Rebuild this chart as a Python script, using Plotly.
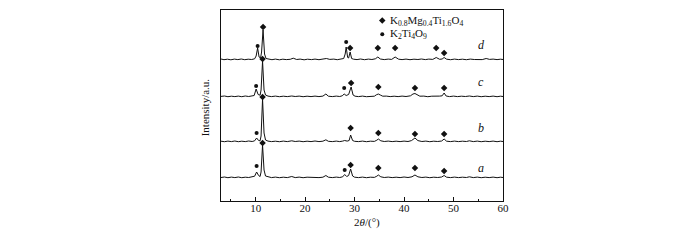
import plotly.graph_objects as go

# ---- data (2theta, relative intensity above each baseline) ----
pattern_a = [(3.0,0.5),(3.7,1.0),(4.4,0.3),(5.1,0.9),(5.8,0.4),(6.5,1.0),(7.2,0.3),(7.9,0.8),(8.6,0.5),(9.3,1.0),
             (9.8,1.8),(10.2,6),(10.6,2.5),(10.9,1.5),(11.1,6),(11.4,33),(11.7,8),(12.0,2),(12.5,1.0),(13.2,0.4),
             (14.0,0.9),(14.8,0.3),(15.6,0.8),(16.4,0.4),(17.3,1.5),(18.0,0.4),(18.8,0.9),(19.6,0.3),(20.4,0.8),
             (21.2,0.5),(22.0,0.9),(22.8,0.4),(23.6,0.8),(24.2,2.5),(24.7,0.8),(25.5,0.4),(26.3,0.9),(27.0,0.5),
             (27.6,1.2),(28.0,3.5),(28.4,1.5),(28.8,2.5),(29.2,9),(29.6,2),(30.0,0.8),(30.8,0.4),(31.6,0.9),
             (32.4,0.3),(33.2,0.8),(34.0,0.6),(34.5,1.8),(34.8,3),(35.3,1.2),(36.0,0.5),(36.8,0.9),(37.6,0.4),
             (38.4,0.8),(39.2,0.4),(40.0,1.0),(40.8,0.5),(41.6,1.2),(42.2,3),(42.8,1.2),(43.6,0.5),(44.4,0.9),
             (45.2,0.3),(46.0,0.8),(46.8,0.5),(47.6,1.0),(48.1,2.5),(48.6,0.8),(49.4,0.4),(50.2,0.9),(51.0,0.4),
             (51.8,0.8),(52.6,0.5),(53.2,1.2),(54.0,0.4),(54.8,0.9),(55.6,0.3),(56.4,0.8),(57.2,0.4),(58.0,0.9),
             (58.8,0.3),(59.5,0.8),(60.0,0.5)]
pattern_b = [(3.0,0.8),(3.7,0.3),(4.4,0.9),(5.1,0.4),(5.8,1.0),(6.5,0.3),(7.2,0.8),(7.9,0.4),(8.6,1.0),(9.3,0.5),
             (9.8,1.2),(10.2,4),(10.6,1.5),(10.9,1.2),(11.1,6),(11.4,43),(11.7,9),(12.0,2),(12.5,0.9),(13.2,0.4),
             (14.0,0.8),(14.8,0.3),(15.6,0.9),(16.4,0.4),(17.3,1.2),(18.0,0.5),(18.8,0.9),(19.6,0.3),(20.4,0.8),
             (21.2,0.4),(22.0,1.0),(22.8,0.4),(23.6,0.8),(24.2,2.2),(24.7,0.7),(25.5,0.4),(26.3,0.9),(27.0,0.4),
             (27.6,0.9),(28.0,1.5),(28.5,0.9),(28.9,1.5),(29.2,7),(29.6,1.5),(30.0,0.7),(30.8,0.4),(31.6,0.9),
             (32.4,0.3),(33.2,0.8),(34.0,0.6),(34.5,1.8),(34.8,3),(35.3,1.2),(36.0,0.5),(36.8,0.9),(37.6,0.4),
             (38.4,0.8),(39.2,0.4),(40.0,0.9),(40.8,0.5),(41.5,1.4),(42.2,4),(42.8,1.4),(43.6,0.5),(44.4,0.9),
             (45.2,0.3),(46.0,0.8),(46.8,0.5),(47.6,1.0),(48.1,3),(48.6,0.8),(49.4,0.4),(50.2,0.9),(51.0,0.4),
             (51.8,0.8),(52.6,0.5),(53.2,1.2),(54.0,0.4),(54.8,0.9),(55.6,0.3),(56.4,0.8),(57.2,0.4),(58.0,0.9),
             (58.8,0.3),(59.5,0.8),(60.0,0.5)]
pattern_c = [(3.0,0.6),(3.7,1.0),(4.4,0.3),(5.1,0.8),(5.8,0.4),(6.5,0.9),(7.2,0.3),(7.9,1.0),(8.6,0.5),(9.3,0.9),
             (9.7,1.5),(10.1,8),(10.5,2.5),(10.9,1.8),(11.1,7),(11.4,36),(11.7,7),(12.0,2),(12.5,0.9),(13.2,0.4),
             (14.0,0.9),(14.8,0.3),(15.6,0.8),(16.4,0.4),(17.3,1.0),(18.0,0.5),(18.8,0.9),(19.6,0.3),(20.4,0.8),
             (21.2,0.4),(22.0,0.9),(22.8,0.4),(23.6,0.9),(24.2,3),(24.7,0.8),(25.5,0.4),(26.3,0.9),(27.0,0.5),
             (27.5,1.2),(27.9,3),(28.3,1.5),(28.8,2.5),(29.3,10),(29.7,2),(30.1,0.8),(30.8,0.4),(31.6,0.9),
             (32.4,0.3),(33.2,0.8),(34.0,0.8),(34.4,2.2),(34.8,3),(35.2,2.0),(35.7,0.8),(36.4,0.9),(37.2,0.4),
             (38.0,0.8),(38.8,0.4),(39.6,0.9),(40.4,0.5),(41.3,1.2),(41.8,3),(42.2,3.5),(42.7,2.0),(43.2,0.8),
             (44.0,0.9),(44.8,0.3),(45.6,0.8),(46.4,0.5),(47.2,0.9),(47.7,1.2),(48.1,4),(48.5,1.0),(49.2,0.4),
             (50.0,0.9),(50.8,0.4),(51.6,0.8),(52.4,0.5),(53.2,1.0),(54.0,0.4),(54.8,0.9),(55.6,0.3),(56.4,0.8),
             (57.2,0.4),(58.0,0.9),(58.8,0.3),(59.5,0.8),(60.0,0.5)]
pattern_d = [(3.0,1.0),(3.6,0.3),(4.3,0.8),(5.0,0.2),(5.7,0.9),(6.4,0.4),(7.1,1.0),(7.8,0.3),(8.5,0.8),(9.2,0.5),
             (9.8,1.2),(10.1,4),(10.4,12),(10.7,3),(11.0,2),(11.2,8),(11.5,30),(11.8,6),(12.1,1.5),(12.6,0.8),
             (13.3,0.3),(14.0,0.9),(14.8,0.2),(15.5,0.8),(16.2,0.4),(17.0,0.7),(17.6,1.8),(18.3,0.5),(19.0,0.9),
             (19.8,0.2),(20.5,0.8),(21.3,0.4),(22.0,0.9),(22.8,0.3),(23.5,0.8),(24.3,1.5),(25.0,0.6),(25.8,0.9),
             (26.5,0.3),(27.2,1.0),(27.8,1.5),(28.1,6),(28.3,13),(28.6,2.5),(28.8,2),(29.1,8),(29.4,1.5),(29.8,0.8),
             (30.5,0.4),(31.2,1.0),(32.0,0.3),(32.8,0.9),(33.5,0.5),(34.2,1.2),(34.7,3),(35.2,1.0),(36.0,0.4),
             (36.8,0.9),(37.5,0.6),(38.2,3),(38.9,0.8),(39.6,0.4),(40.4,0.9),(41.2,0.3),(42.0,0.8),(42.8,0.5),
             (43.5,1.0),(44.3,0.4),(45.0,0.9),(45.8,0.6),(46.5,2.5),(47.2,0.7),(47.7,1.0),(48.1,2.5),(48.6,0.8),
             (49.4,0.3),(50.2,0.9),(51.0,0.4),(51.8,0.8),(52.6,0.3),(53.4,0.9),(54.2,0.5),(55.0,0.8),(55.8,0.4),
             (56.6,1.5),(57.3,0.6),(58.0,0.9),(58.8,0.4),(59.5,0.8),(60.0,0.5)]

pattern_names = ["a", "b", "c", "d"]
baselines = [23, 59, 104, 141]          # vertical offsets of the stacked patterns
label_pos = [(55.5, 33), (55.6, 73), (55.6, 119), (55.6, 156)]

# phase markers: (2theta, absolute height)
kmt_marks = [  # K0.8Mg0.4Ti1.6O4  (diamond)
    (11.4, 58), (29.2, 36), (34.8, 33), (42.2, 33), (48.1, 30),
    (11.4, 104), (29.2, 73), (34.8, 68), (42.2, 67), (48.1, 67),
    (11.4, 142), (29.3, 118), (34.8, 114), (42.2, 113), (48.1, 113),
    (11.5, 174), (29.1, 153), (34.7, 153), (38.2, 153), (46.5, 153), (48.1, 148),
]
kt_marks = [   # K2Ti4O9  (circle)
    (10.2, 35), (28.0, 31),
    (10.2, 68),
    (10.1, 115), (27.9, 113),
    (10.4, 155), (28.3, 159),
]
legend_names = ["K<sub>0.8</sub>Mg<sub>0.4</sub>Ti<sub>1.6</sub>O<sub>4</sub>", "K<sub>2</sub>Ti<sub>4</sub>O<sub>9</sub>"]
legend_pos = [(35.6, 180.5), (35.6, 166.7)]

x_ticks = [10, 20, 30, 40, 50, 60]

FONT = "Liberation Serif, Times New Roman, serif"
INK = "#111111"

fig = go.Figure()
for pat, base in zip([pattern_a, pattern_b, pattern_c, pattern_d], baselines):
    fig.add_trace(go.Scatter(
        x=[p[0] for p in pat], y=[base + p[1] for p in pat],
        mode="lines", line=dict(color=INK, width=1), showlegend=False, hoverinfo="skip"))

fig.add_trace(go.Scatter(
    x=[m[0] for m in kmt_marks], y=[m[1] for m in kmt_marks], mode="markers",
    marker=dict(symbol="diamond", size=5, color=INK), showlegend=False))
fig.add_trace(go.Scatter(
    x=[m[0] for m in kt_marks], y=[m[1] for m in kt_marks], mode="markers",
    marker=dict(symbol="circle", size=4, color=INK), showlegend=False))

# legend inside plot
fig.add_trace(go.Scatter(
    x=[legend_pos[0][0]], y=[legend_pos[0][1]], mode="markers",
    marker=dict(symbol="diamond", size=5, color=INK), showlegend=False))
fig.add_trace(go.Scatter(
    x=[legend_pos[1][0]], y=[legend_pos[1][1]], mode="markers",
    marker=dict(symbol="circle", size=4, color=INK), showlegend=False))
for name, (lx, ly) in zip(legend_names, legend_pos):
    fig.add_annotation(x=lx + 1.2, y=ly, xref="x", yref="y", text=name, showarrow=False,
                       xanchor="left", yanchor="middle", font=dict(family=FONT, size=11, color=INK))

for name, (lx, ly) in zip(pattern_names, label_pos):
    fig.add_annotation(x=lx, y=ly, xref="x", yref="y", text=f"<i>{name}</i>", showarrow=False,
                       xanchor="center", yanchor="middle", font=dict(family=FONT, size=12, color=INK))

# axis titles
fig.add_annotation(x=-0.057, y=0.49, xref="paper", yref="paper", text="Intensity/a.u.", textangle=-90,
                   showarrow=False, xanchor="center", yanchor="middle", font=dict(family=FONT, size=11, color=INK))
fig.add_annotation(x=0.516, y=-0.11, xref="paper", yref="paper", text="2<i>θ</i>/(°)",
                   showarrow=False, xanchor="center", yanchor="middle", font=dict(family=FONT, size=11, color=INK))

# the page body adds an 8px margin, so the plot box is placed 8px up/left to land where the reference has it
fig.update_layout(
    width=700, height=240,
    margin=dict(l=213, r=205, t=2, b=47),
    paper_bgcolor="white", plot_bgcolor="white",
    font=dict(family=FONT, size=11, color=INK),
    xaxis=dict(range=[3, 60], tickvals=x_ticks, ticks="inside", ticklen=4, tickwidth=1, tickcolor=INK,
               minor=dict(tickvals=[5, 15, 25, 35, 45, 55], ticks="inside", ticklen=2, tickcolor=INK),
               showline=True, linecolor=INK, linewidth=1, mirror=True, showgrid=False, zeroline=False,
               automargin=False, ticklabelstandoff=-3, tickfont=dict(family=FONT, size=11, color=INK)),
    yaxis=dict(range=[0, 191], showticklabels=False, ticks="", showline=True, linecolor=INK,
               linewidth=1, mirror=True, showgrid=False, zeroline=False, automargin=False),
)

fig.write_html("out.html")
